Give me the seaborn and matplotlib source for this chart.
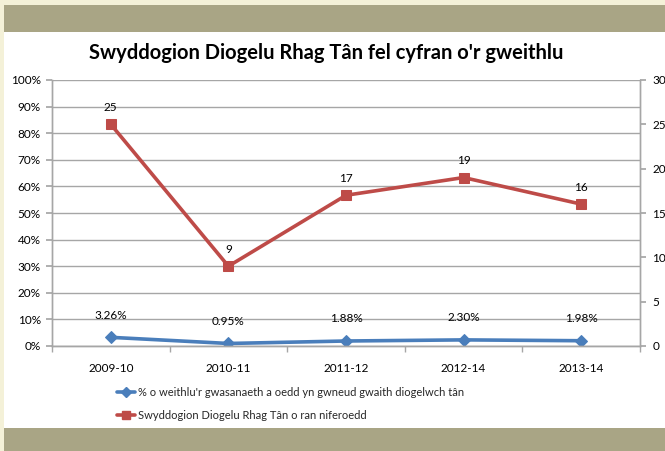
import matplotlib
matplotlib.use("Agg")
import matplotlib.pyplot as plt
import seaborn as sns
import pandas as pd
from matplotlib.patches import Rectangle
from matplotlib.lines import Line2D
from matplotlib.ticker import FixedLocator

years = ["2009-10", "2010-11", "2011-12", "2012-14", "2013-14"]
pct_values = [3.26, 0.95, 1.88, 2.30, 1.98]
count_values = [25, 9, 17, 19, 16]
pct_labels = ["3.26%", "0.95%", "1.88%", "2.30%", "1.98%"]
left_ticks = [0, 10, 20, 30, 40, 50, 60, 70, 80, 90, 100]
right_ticks = [0, 5, 10, 15, 20, 25, 30]
title = "Swyddogion Diogelu Rhag Tân fel cyfran o'r gweithlu"
name_pct = "% o weithlu'r gwasanaeth a oedd yn gwneud gwaith diogelwch tân"
name_count = "Swyddogion Diogelu Rhag Tân o ran niferoedd"

sns.set_theme(style="white")
plt.rcParams['font.family'] = ['Lato', 'DejaVu Sans']

W, H = 665, 451
fig = plt.figure(figsize=(W / 100, H / 100), dpi=100)
fig.patch.set_facecolor("#F4F1D8")

def frect(x0, y0, x1, y1, color):
    fig.patches.append(Rectangle((x0 / W, 1 - y1 / H), (x1 - x0) / W, (y1 - y0) / H,
                                 transform=fig.transFigure, facecolor=color,
                                 edgecolor="none", zorder=-10))

frect(4, 5, W, 32, "#A9A585")
frect(4, 32, W, 428, "#FFFFFF")
frect(4, 428, W, H, "#A9A585")

blue = "#4A7EBB"
red = "#BE4B48"
grid = "#A6A6A6"

ax = fig.add_axes([52 / W, 1 - 346 / H, (640 - 52) / W, (346 - 80) / H])
ax.set_facecolor("none")
ax2 = ax.twinx()

df = pd.DataFrame({"year": years, "pct": pct_values, "count": count_values})

sns.lineplot(data=df, x="year", y="pct", ax=ax, color=blue, linewidth=2.6,
             marker="D", markersize=6, markeredgecolor=blue,
             legend=False, sort=False)
sns.lineplot(data=df, x="year", y="count", ax=ax2, color=red, linewidth=2.6,
             marker="s", markersize=7, markeredgecolor=red,
             legend=False, sort=False)

ax.set_ylim(0, 100)
ax2.set_ylim(0, 30)
ax.set_xlim(-0.5, 4.5)
ax.set_yticks(left_ticks)
ax.set_yticklabels([f"{t}%" for t in left_ticks])
ax2.set_yticks(right_ticks)
ax2.set_yticklabels([str(t) for t in right_ticks])
ax.set_xticks(range(len(years)))
ax.set_xticklabels(years)
ax.xaxis.set_minor_locator(FixedLocator([i + 0.5 for i in range(-1, len(years))]))
ax.set_xlabel("")
ax.set_ylabel("")
ax2.set_ylabel("")

ax.yaxis.grid(True, color=grid, linewidth=1.0)
ax.xaxis.grid(False)
ax2.grid(False)
ax.set_axisbelow(True)

for a in (ax, ax2):
    a.spines["top"].set_visible(False)
    for s in ("left", "right", "bottom"):
        a.spines[s].set_color(grid)
        a.spines[s].set_linewidth(1.0)

ax.tick_params(axis="x", which="major", length=0, pad=12, labelsize=8.5)
ax.tick_params(axis="x", which="minor", length=4, color=grid, bottom=True)
ax.tick_params(axis="y", length=4, color=grid, labelsize=8.5, pad=4)
ax2.tick_params(axis="y", length=4, color=grid, labelsize=8.5, pad=5)
for lab in ax.get_xticklabels() + ax.get_yticklabels() + ax2.get_yticklabels():
    lab.set_color("#000000")

for i, (v, lab) in enumerate(zip(pct_values, pct_labels)):
    ax.annotate(lab, (i, v), xytext=(0, 12), textcoords="offset points",
                ha="center", va="bottom", fontsize=8.5, color="#000000")
for i, v in enumerate(count_values):
    ax2.annotate(str(v), (i, v), xytext=(0, 8), textcoords="offset points",
                 ha="center", va="bottom", fontsize=8.5, color="#000000")

fig.text(326 / W, 1 - 53 / H, title, ha="center", va="center",
         fontsize=14.5, fontweight="bold", color="#000000")

handles = [
    Line2D([], [], color=blue, linewidth=2.6, marker="D", markersize=5,
           markeredgecolor=blue),
    Line2D([], [], color=red, linewidth=2.6, marker="s", markersize=5.5,
           markeredgecolor=red),
]
fig.legend(handles, [name_pct, name_count], loc="upper left",
           bbox_to_anchor=(117 / W, 1 - 387 / H), frameon=False, fontsize=8,
           handlelength=1.6, handletextpad=0.3, labelspacing=1.1,
           borderaxespad=0, borderpad=0)

fig.savefig("out.png", dpi=100, facecolor=fig.get_facecolor())
